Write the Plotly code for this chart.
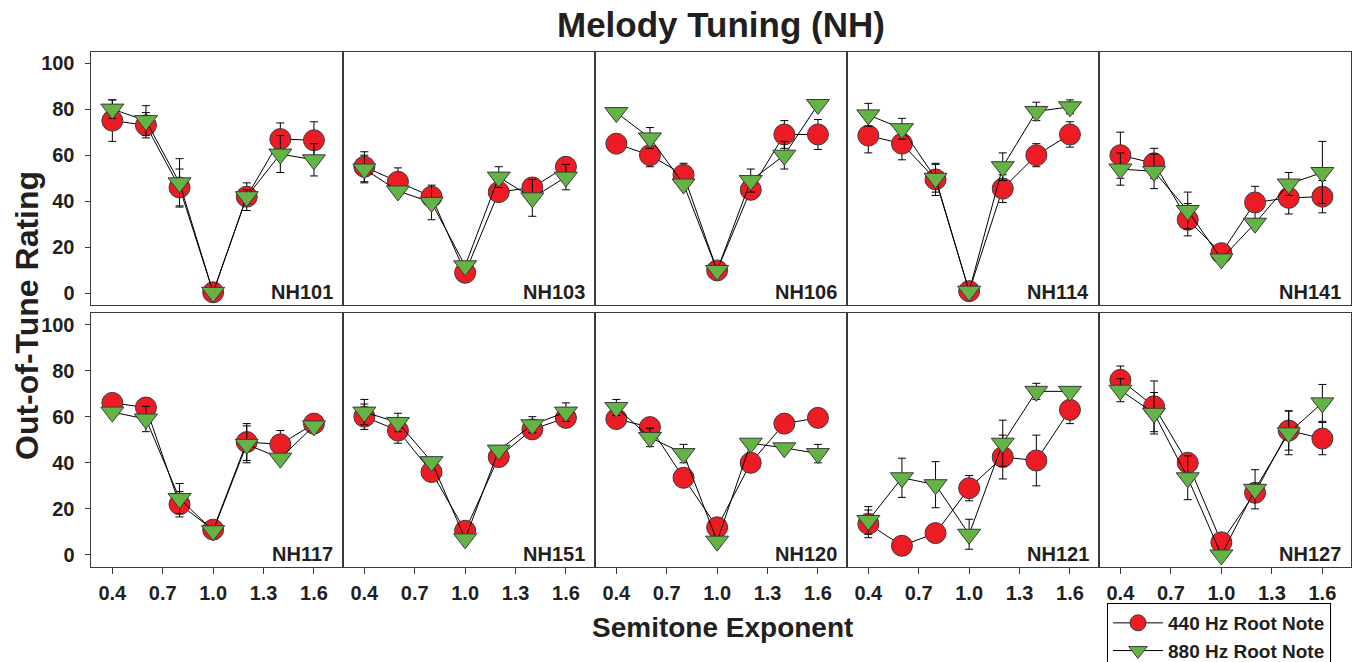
import plotly.graph_objects as go

# ---------------- data ----------------
semitone_exponent = [0.4, 0.6, 0.8, 1.0, 1.2, 1.4, 1.6]
x_tick_values = [0.4, 0.7, 1.0, 1.3, 1.6]
x_tick_labels = ["0.4", "0.7", "1.0", "1.3", "1.6"]
y_tick_values = [0, 20, 40, 60, 80, 100]

subjects = ["NH101", "NH103", "NH106", "NH114", "NH141",
            "NH117", "NH151", "NH120", "NH121", "NH127"]

NH101_440 = [75, 73, 46, 0.5, 42, 67, 66.5]
NH101_880 = [80, 75, 48, 0.5, 42, 60.5, 58]
NH101_440_err = [9, 5.5, 8, 0, 6, 7, 8]
NH101_880_err = [4, 6.5, 10.5, 0, 3, 8, 7]

NH103_440 = [55, 48.5, 42, 9, 44, 46, 55]
NH103_880 = [54, 44.5, 39.5, 12, 50.5, 41.5, 50.5]
NH103_440_err = [6.5, 6, 4, 0, 3, 3.5, 3]
NH103_880_err = [6, 0, 7.5, 0, 4.5, 8, 5.5]

NH106_440 = [65, 60, 51.5, 10, 45, 69, 69]
NH106_880 = [78.5, 67.5, 47.5, 10, 49, 60, 82]
NH106_440_err = [0, 5, 5, 0, 4, 6, 6.5]
NH106_880_err = [0, 4.5, 0, 0, 5, 6, 0]

NH114_440 = [68.5, 65, 49.5, 1, 45.5, 60, 69]
NH114_880 = [77.5, 71.5, 50, 1, 55, 79, 81]
NH114_440_err = [7.5, 7, 7, 0, 6, 5, 5.5]
NH114_880_err = [5, 4.5, 6, 0, 6, 4, 3]

NH141_440 = [60, 56.5, 32, 17.5, 39.5, 41.5, 42]
NH141_880 = [54, 53, 36, 15, 30.5, 47.5, 52.5]
NH141_440_err = [10, 6.5, 7, 0, 7, 7, 7]
NH141_880_err = [7, 7.5, 8, 0, 0, 5, 13.5]

NH117_440 = [66, 64, 22, 11, 49, 48, 57]
NH117_880 = [62, 59, 24.5, 10.5, 48, 42, 56]
NH117_440_err = [1.5, 2, 5.5, 0, 8, 6, 3.5]
NH117_880_err = [1.5, 5.5, 6.5, 0, 8, 0, 0]

NH151_440 = [60, 54, 36, 10.5, 42.5, 54.5, 59.5]
NH151_880 = [62, 57.5, 40.5, 7, 45.5, 56.5, 62]
NH151_440_err = [5.5, 5.5, 0, 0, 0, 0, 0]
NH151_880_err = [5.5, 4, 0, 0, 0, 3.5, 4]

NH120_440 = [59, 55.5, 33.5, 12, 40, 57, 59.5]
NH120_880 = [64, 51, 44, 6, 48.5, 46.5, 44]
NH120_440_err = [0, 1, 0, 0, 0, 0, 0]
NH120_880_err = [3.5, 4, 4, 0, 0, 0, 4]

NH121_440 = [13.5, 4, 9.5, 29, 42.5, 41, 63]
NH121_880 = [15, 33.5, 30.5, 9, 48.5, 71, 71]
NH121_440_err = [6, 0, 0, 5.5, 9.5, 11, 6]
NH121_880_err = [6, 8.5, 10, 6.5, 10, 3.5, 0]

NH127_440 = [76, 64.5, 40, 5.5, 27, 54, 50.5]
NH127_880 = [71.5, 61.5, 33.5, 0, 28.5, 53, 66]
NH127_440_err = [6, 11, 4, 0, 0, 8.5, 7]
NH127_880_err = [5, 9, 9.5, 0, 8.5, 9.5, 8]

series_440 = [NH101_440, NH103_440, NH106_440, NH114_440, NH141_440,
              NH117_440, NH151_440, NH120_440, NH121_440, NH127_440]
series_880 = [NH101_880, NH103_880, NH106_880, NH114_880, NH141_880,
              NH117_880, NH151_880, NH120_880, NH121_880, NH127_880]
err_440 = [NH101_440_err, NH103_440_err, NH106_440_err, NH114_440_err, NH141_440_err,
           NH117_440_err, NH151_440_err, NH120_440_err, NH121_440_err, NH127_440_err]
err_880 = [NH101_880_err, NH103_880_err, NH106_880_err, NH114_880_err, NH141_880_err,
           NH117_880_err, NH151_880_err, NH120_880_err, NH121_880_err, NH127_880_err]

# ---------------- style ----------------
W, H = 1362, 662
FONT = "Liberation Sans, Arial, sans-serif"
TXT = "#231F20"
RED = "#ED1C24"
GREEN = "#64B445"
EDGE = "#3a3a3a"

x_edges = [90.5, 342.5, 594.5, 846.5, 1098.5, 1351]
row_px = [(51.5, 305), (313, 566.5)]


def bold(size):
    return dict(family=FONT, size=size, color=TXT, weight="bold")


fig = go.Figure()

for i, subj in enumerate(subjects):
    row, col = divmod(i, 5)
    ax = "" if i == 0 else str(i + 1)
    xa, ya = "x" + ax, "y" + ax
    for vals, errs, name, color, sym, size in [
        (series_440[i], err_440[i], "440 Hz Root Note", RED, "circle", 21),
        (series_880[i], err_880[i], "880 Hz Root Note", GREEN, "triangle-down", 20),
    ]:
        fig.add_trace(go.Scatter(
            x=semitone_exponent, y=vals, xaxis=xa, yaxis=ya,
            mode="lines+markers", name=name, showlegend=(i == 0),
            line=dict(color="black", width=1),
            marker=dict(symbol=sym, size=size, color=color,
                        line=dict(color=EDGE, width=1)),
            error_y=dict(type="data", array=errs, visible=True,
                         color="black", thickness=1, width=4),
        ))
    x0, x1 = x_edges[col] / W, x_edges[col + 1] / W
    top, bot = row_px[row]
    y0, y1 = 1 - bot / H, 1 - top / H
    xaxis = dict(domain=[x0, x1], range=[0.27, 1.77], anchor=ya,
                 showline=True, mirror=True, linecolor=EDGE, linewidth=1,
                 showgrid=False, zeroline=False,
                 tickvals=x_tick_values, ticktext=x_tick_labels,
                 tickfont=bold(20))
    if row == 1:
        xaxis.update(ticks="outside", ticklen=6, tickcolor=EDGE,
                     showticklabels=True, ticklabelstandoff=2)
    else:
        xaxis.update(ticks="", showticklabels=False)
    yaxis = dict(domain=[y0, y1], range=[-5, 105], anchor=xa,
                 showline=True, mirror=True, linecolor=EDGE, linewidth=1,
                 showgrid=False, zeroline=False,
                 tickvals=y_tick_values, tickfont=bold(20))
    if col == 0:
        yaxis.update(ticks="outside", ticklen=5, tickcolor=EDGE,
                     showticklabels=True, ticklabelstandoff=6)
    else:
        yaxis.update(ticks="", showticklabels=False)
    fig.update_layout(**{"xaxis" + ax: xaxis, "yaxis" + ax: yaxis})
    fig.add_annotation(
        text=subj, x=0.97, y=0.05,
        xref=xa + " domain", yref=ya + " domain",
        xanchor="right", yanchor="middle", showarrow=False,
        font=bold(20))

fig.add_annotation(text="Melody Tuning (NH)", x=721 / W, y=1 - 25 / H,
                   xref="paper", yref="paper", xanchor="center", yanchor="middle",
                   showarrow=False, font=bold(35))
fig.add_annotation(text="Semitone Exponent", x=722 / W, y=1 - 627 / H,
                   xref="paper", yref="paper", xanchor="center", yanchor="middle",
                   showarrow=False, font=bold(28))
fig.add_annotation(text="Out-of-Tune Rating", x=27 / W, y=1 - 316 / H,
                   xref="paper", yref="paper", xanchor="center", yanchor="middle",
                   textangle=-90, showarrow=False, font=bold(32))

fig.update_layout(
    width=W, height=H,
    margin=dict(l=0, r=0, t=0, b=0, autoexpand=False),
    paper_bgcolor="white", plot_bgcolor="white",
    showlegend=True,
    legend=dict(x=1107 / W, y=1 - 603 / H, xanchor="left", yanchor="top",
                bordercolor="black", borderwidth=1, bgcolor="white",
                itemwidth=50, tracegroupgap=0,
                font=bold(19)),
)

fig.write_html("out.html")
